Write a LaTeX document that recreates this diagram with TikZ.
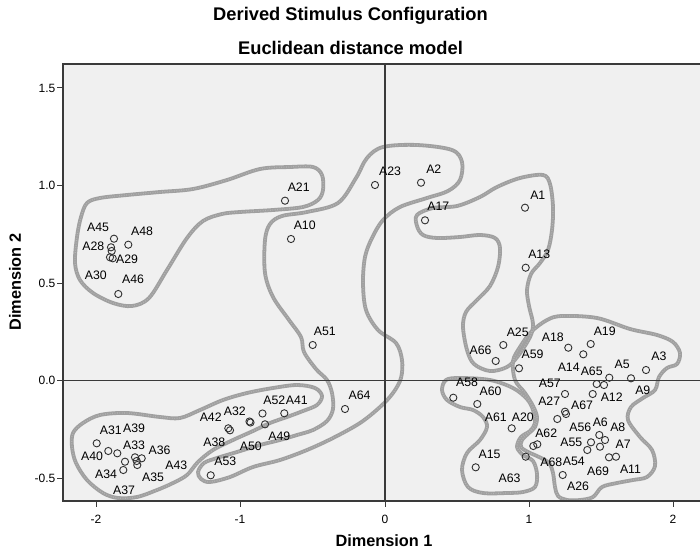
\documentclass[tikz,border=0pt]{standalone}
\usepackage{fontspec}
\setmainfont{Liberation Sans}
\definecolor{bgc}{HTML}{F0F0F0}
\definecolor{ctr}{HTML}{A0A0A0}
\definecolor{ctrlight}{HTML}{B4B4B4}
\definecolor{axc}{HTML}{3A3A3A}
\definecolor{ptc}{HTML}{303030}
\begin{document}
\begin{tikzpicture}[x=1pt,y=-1pt,
  pt/.style={circle,draw=ptc,line width=0.9pt,minimum size=7.2pt,inner sep=0pt},
  lbl/.style={inner sep=0pt,font=\fontsize{12.3}{13}\selectfont},
  contour/.style={draw=ctr,line width=3.8pt,line join=round},
  contourfuzz/.style={draw=ctrlight,line width=1.2pt,dash pattern=on 0.8pt off 1.6pt},
  axisline/.style={draw=axc,line width=1.3pt},
  framebox/.style={draw=axc,line width=1.4pt},
  tickmark/.style={draw=axc,line width=1pt},
  ticklbl/.style={inner sep=0pt,font=\fontsize{12}{13}\selectfont},
  titletxt/.style={inner sep=0pt,font=\bfseries\fontsize{18.3}{20}\selectfont},
  axtitle/.style={inner sep=0pt,font=\bfseries\fontsize{16.3}{18}\selectfont},
]
\useasboundingbox (0,0) rectangle (700,553);
\coordinate (ftl) at (63,64);
\coordinate (ftr) at (700,64);
\coordinate (fbl) at (63,501);
\coordinate (fbr) at (700,501);
\fill[bgc] (ftl) rectangle (fbr);

% contours
\begin{scope}
\clip (ftl) rectangle (fbr);
\foreach \sty in {contour,contourfuzz}{
% upper-left cluster
\draw[\sty] plot[smooth cycle, tension=0.55] coordinates {
(87,203) (100,198) (127,195) (160,192) (193,189) (227,180) (260,169) (290,167) (313,167)
(322,175) (323,190) (318,200) (303,207) (273,210) (240,212) (222,214) (203,221) (187,238)
(167,270) (149,298) (132,306) (113,303) (93,293) (80,280) (75,263) (77,237) (81,217)};
% long S-shaped cluster
\draw[\sty] plot[smooth cycle, tension=0.55] coordinates {
(383,147) (417,145) (452,150) (462,162) (460,180) (448,191) (427,198) (400,207) (383,220)
(372,238) (365,257) (363,283) (366,310) (378,330) (396,343) (402,360) (401,378) (393,393)
(380,407) (360,423) (333,438) (307,450) (280,460) (253,467) (230,477) (210,482) (201,479)
(198,472) (204,463) (217,458) (237,452) (260,445) (280,440) (297,435) (313,430) (327,421)
(333,409) (332,393) (327,380) (316,369) (304,352) (301,337) (289,320) (273,297) (265,273)
(265,240) (270,224) (282,216) (307,212) (338,203) (356,178) (367,158)};
% lower-left cluster
\draw[\sty] plot[smooth cycle, tension=0.55] coordinates {
(73,433) (83,423) (100,415) (127,413) (160,417) (180,418) (200,410) (223,400) (247,393)
(273,388) (297,385) (315,388) (322,396) (317,405) (303,411) (287,417) (270,423) (253,431)
(233,440) (213,450) (198,462) (187,475) (173,483) (157,490) (137,497) (118,498) (103,493)
(87,480) (76,463) (72,447)};
% right upper cluster
\draw[\sty] plot[smooth cycle, tension=0.55] coordinates {
(417,215) (433,208) (457,206) (480,197) (497,187) (520,178) (543,175) (550,184) (553,207)
(552,230) (548,250) (540,263) (531,274) (527,290) (529,306) (533,324) (530,337) (518,356)
(507,367) (490,371) (474,364) (467,350) (463,327) (466,312) (477,300) (490,286) (498,267)
(500,248) (495,238) (480,235) (460,237) (437,238) (423,235) (417,226)};
% right lower big cluster
\draw[\sty] plot[smooth cycle, tension=0.55] coordinates {
(547,320) (562,316) (597,318) (630,329) (657,335) (673,342) (680,353) (677,364) (667,368)
(659,377) (655,390) (643,398) (631,407) (628,420) (640,437) (652,450) (655,466) (647,477)
(633,480) (617,483) (602,487) (593,497) (580,500) (567,500) (558,496) (555,487) (553,473)
(549,463) (539,457) (528,452) (521,447) (522,440) (529,433) (535,427) (537,417) (533,406)
(525,393) (515,380) (513,361) (520,347) (531,332)};
% middle lower cluster
\draw[\sty] plot[smooth cycle, tension=0.55] coordinates {
(446,380) (460,378) (490,380) (513,388) (527,399) (533,410) (535,423) (530,431) (521,437)
(517,447) (523,455) (533,461) (537,474) (535,487) (523,492) (507,493) (483,493) (468,487)
(462,470) (467,453) (480,440) (487,427) (483,417) (473,410) (460,407) (447,400) (442,390)};
}
\end{scope}

% axes through origin
\draw[axisline] (385,64) coordinate (vtop) -- (385,501) coordinate (vbot);
\draw[axisline] (63,380.5) coordinate (hleft) -- (700,380.5) coordinate (hright);
% frame
\draw[framebox] (ftr) -- (ftl) -- (fbl) -- (fbr);

% ticks x
\foreach \xx/\tl in {96/-2,240/-1,385/0,529/1,673/2}{
  \draw[tickmark] (\xx,501) -- (\xx,507);
  \node[ticklbl] (xt\tl) at (\xx,519) {\tl};
}
% ticks y
\foreach \yy/\tl/\nm in {88/1.5/a,185.5/1.0/b,283/0.5/c,380.5/0.0/d,478/-0.5/e}{
  \draw[tickmark] (57,\yy) -- (63,\yy);
  \node[ticklbl,anchor=east] (yt\nm) at (55.5,\yy) {\tl};
}

% titles
\node[titletxt] (t1) at (350.5,15.5) {Derived Stimulus Configuration};
\node[titletxt] (t2) at (350.5,48) {Euclidean distance model};
\node[axtitle] (xlab) at (384,541) {Dimension 1};
\node[axtitle,rotate=90] (ylab) at (15,282) {Dimension 2};

% points: upper-left cluster
\node[pt] (p45) at (114,238.7) {};
\node[pt] (p48) at (128.3,244.7) {};
\node[pt] (p28) at (111,247.3) {};
\node[pt] (p28b) at (111.7,251) {};
\node[pt] (p30) at (110,257.3) {};
\node[pt] (p29) at (112.7,258.3) {};
\node[pt] (p46) at (118.3,294) {};
\node[pt] (p21) at (285,200.7) {};
\node[lbl] (l45) at (98,227.5) {A45};
\node[lbl] (l48) at (142,231.5) {A48};
\node[lbl] (l28) at (93.3,246.3) {A28};
\node[lbl] (l29) at (127,259.5) {A29};
\node[lbl] (l30) at (95.8,275.3) {A30};
\node[lbl] (l46) at (133,279.5) {A46};
\node[lbl] (l21) at (298.7,187.3) {A21};

% S cluster
\node[pt] (p23) at (375,185) {};
\node[pt] (p2) at (421,182.7) {};
\node[pt] (p10) at (291,239) {};
\node[pt] (p51) at (312.7,345) {};
\node[pt] (p64) at (345,409) {};
\node[pt] (p53) at (210.7,475.3) {};
\node[pt] (p49) at (265,424.3) {};
\node[lbl] (l23) at (390,171.7) {A23};
\node[lbl] (l2) at (433.8,169.3) {A2};
\node[lbl] (l10) at (304.7,225.7) {A10};
\node[lbl] (l51) at (324.8,331.3) {A51};
\node[lbl] (l64) at (359.5,395) {A64};
\node[lbl] (l53) at (225.3,461.7) {A53};
\node[lbl] (l49) at (279.3,436.7) {A49};
\node[lbl] (l50) at (250.8,446.7) {A50};

% lower-left cluster
\node[pt] (p42) at (228.3,428.3) {};
\node[pt] (p38) at (230,430.3) {};
\node[pt] (p32) at (249.5,421.5) {};
\node[pt] (p50) at (250.5,422.5) {};
\node[pt] (p52) at (262.5,413.5) {};
\node[pt] (p41) at (284.3,413.3) {};
\node[pt] (p40) at (96.7,443.3) {};
\node[pt] (p31) at (108.3,451) {};
\node[pt] (p39) at (117.3,453.3) {};
\node[pt] (p34) at (125,461.7) {};
\node[pt] (p37) at (123.3,470) {};
\node[pt] (p33) at (135,457.3) {};
\node[pt] (p35) at (136.7,461) {};
\node[pt] (p43) at (137.3,465) {};
\node[pt] (p36) at (141.7,458.3) {};
\node[lbl] (l42) at (210.7,417.3) {A42};
\node[lbl] (l38) at (214.3,442.5) {A38};
\node[lbl] (l32) at (234.8,411.7) {A32};
\node[lbl] (l52) at (274.3,400) {A52};
\node[lbl] (l41) at (296.8,400) {A41};
\node[lbl] (l31) at (110.8,430.5) {A31};
\node[lbl] (l39) at (134,428) {A39};
\node[lbl] (l33) at (134,445) {A33};
\node[lbl] (l36) at (159.5,450) {A36};
\node[lbl] (l40) at (92,456.7) {A40};
\node[lbl] (l34) at (106,474) {A34};
\node[lbl] (l35) at (153,477.7) {A35};
\node[lbl] (l43) at (176.3,465) {A43};
\node[lbl] (l37) at (124,490) {A37};

% right upper cluster
\node[pt] (p17) at (425,220.3) {};
\node[pt] (p1) at (525,207.7) {};
\node[pt] (p13) at (525.7,267.7) {};
\node[pt] (p25) at (503.3,345) {};
\node[pt] (p66) at (495.7,361) {};
\node[lbl] (l17) at (438.3,206.7) {A17};
\node[lbl] (l1) at (537.8,195) {A1};
\node[lbl] (l13) at (539.2,254.3) {A13};
\node[lbl] (l25) at (517.7,332) {A25};
\node[lbl] (l66) at (480.5,350) {A66};

% right lower cluster
\node[pt] (p59) at (519,368.3) {};
\node[pt] (p18) at (568.3,347.7) {};
\node[pt] (p19) at (590.7,344) {};
\node[pt] (p14) at (583.3,354.3) {};
\node[pt] (p65) at (596.7,384) {};
\node[pt] (p65b) at (604,385) {};
\node[pt] (p5) at (609.3,377.7) {};
\node[pt] (p3) at (646,370) {};
\node[pt] (p9) at (631,378.3) {};
\node[pt] (p12) at (592.7,394) {};
\node[pt] (p57) at (565,394) {};
\node[pt] (p27) at (557.3,419) {};
\node[pt] (p67) at (565,411.7) {};
\node[pt] (p67b) at (566,414) {};
\node[pt] (p56) at (591,442.3) {};
\node[pt] (p6) at (599.3,435) {};
\node[pt] (p8) at (605,440) {};
\node[pt] (p55) at (587.3,450) {};
\node[pt] (p69) at (600,446.7) {};
\node[pt] (p7) at (609,457.3) {};
\node[pt] (p11) at (616,456.7) {};
\node[pt] (p62) at (537.3,444.3) {};
\node[pt] (p62b) at (533.3,446) {};
\node[pt] (p54) at (562.7,475) {};
\node[lbl] (l59) at (532.5,354.3) {A59};
\node[lbl] (l18) at (552.8,337.7) {A18};
\node[lbl] (l19) at (604.7,331) {A19};
\node[lbl] (l14) at (568.7,367.7) {A14};
\node[lbl] (l65) at (591.7,371.7) {A65};
\node[lbl] (l5) at (622.2,364.3) {A5};
\node[lbl] (l3) at (659,356.3) {A3};
\node[lbl] (l9) at (642.8,390) {A9};
\node[lbl] (l12) at (611.7,397.3) {A12};
\node[lbl] (l57) at (549.8,383) {A57};
\node[lbl] (l27) at (549.2,401) {A27};
\node[lbl] (l67) at (582,405.7) {A67};
\node[lbl] (l56) at (580.3,427.7) {A56};
\node[lbl] (l6) at (600.3,422.3) {A6};
\node[lbl] (l8) at (617.8,427.7) {A8};
\node[lbl] (l55) at (571.3,442.3) {A55};
\node[lbl] (l7) at (623.2,444.3) {A7};
\node[lbl] (l69) at (598,471) {A69};
\node[lbl] (l11) at (630.5,469) {A11};
\node[lbl] (l62) at (546.2,433.3) {A62};
\node[lbl] (l68) at (551.3,462) {A68};
\node[lbl] (l54) at (573.8,461.7) {A54};
\node[lbl] (l26) at (578,486.2) {A26};

% middle lower cluster
\node[pt] (p58) at (453.3,397.7) {};
\node[pt] (p60) at (477.3,404) {};
\node[pt] (p20) at (511.7,428.3) {};
\node[pt] (p61) at (525.7,456.7) {};
\node[pt] (p15) at (475.7,467.3) {};
\node[lbl] (l58) at (467,382.7) {A58};
\node[lbl] (l60) at (490.5,391) {A60};
\node[lbl] (l61) at (495.8,417.3) {A61};
\node[lbl] (l20) at (522.8,417.3) {A20};
\node[lbl] (l15) at (489.5,454.3) {A15};
\node[lbl] (l63) at (509.5,478.7) {A63};
\end{tikzpicture}
\end{document}
